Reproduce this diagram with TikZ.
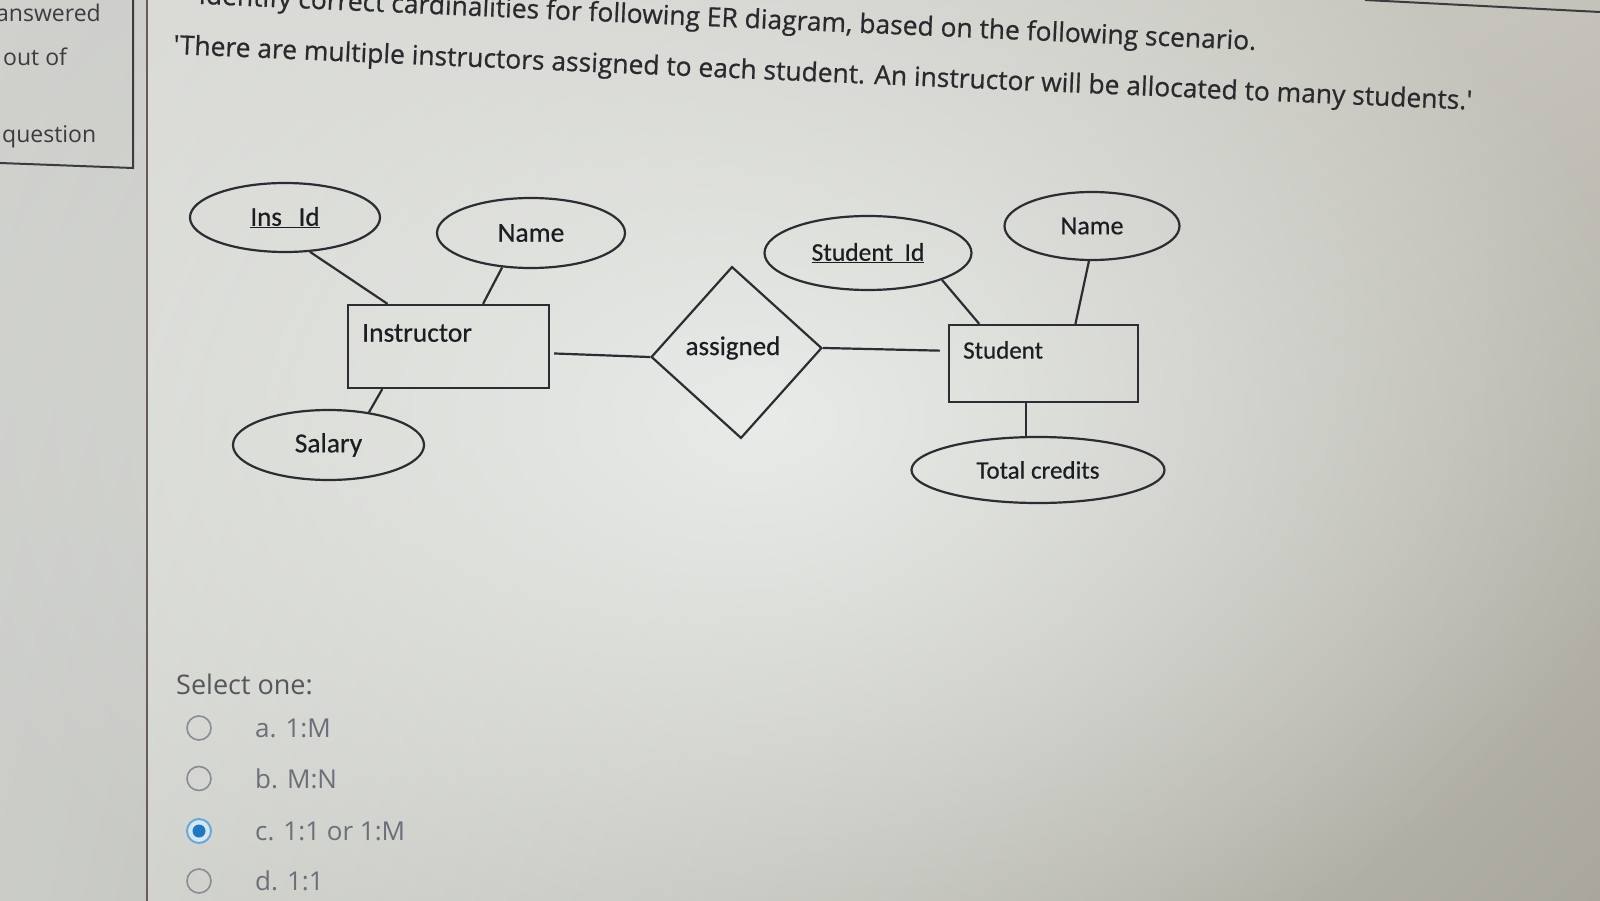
\documentclass[tikz,border=0pt]{standalone}
\usepackage{fontspec}
\setmainfont{Open Sans}
\newfontfamily\qfont{Open Sans}[FakeBold=0.7]
\newfontfamily\optfont{Open Sans}
\newfontfamily\erfont{Carlito}[FakeBold=0.5]
\usetikzlibrary{shapes.geometric,calc,fadings,shadings}
\definecolor{ink}{HTML}{2B2D33}
\definecolor{erink}{HTML}{1C1D22}
\definecolor{qink}{HTML}{2A2A2E}
\definecolor{selink}{HTML}{55575C}
\definecolor{optink}{HTML}{6B6F7A}
\definecolor{radio}{HTML}{8A8C94}
\definecolor{radsel}{HTML}{1E78C2}
\definecolor{radring}{HTML}{6AA8D8}
\definecolor{radfill}{HTML}{D6E7F4}
\definecolor{sideink}{HTML}{3B3B40}
\definecolor{bgUL}{HTML}{DCDDD9}
\definecolor{bgUR}{HTML}{C4C2BA}
\definecolor{bgLL}{HTML}{D6D8D3}
\definecolor{bgLR}{HTML}{A9A79D}
\definecolor{spot}{HTML}{E8EBE8}
\definecolor{redline}{HTML}{6B5A58}
\tikzfading[name=softspot, inner color=transparent!0, outer color=transparent!100]
\begin{document}
\begin{tikzpicture}[x=1pt,y=-1pt,
  conn/.style={draw=ink,line width=2.2pt},
  erfs/.style={font=\erfont\fontsize{#1}{28}\selectfont},
  attr/.style={ellipse,draw=ink,line width=2.2pt,inner sep=0pt,text=erink,erfs=26},
  entity/.style={rectangle,draw=ink,line width=2.2pt,inner sep=0pt},
  relbox/.style={diamond,draw=ink,line width=2.2pt,inner sep=0pt},
  ertext/.style={text=erink,erfs=26,inner sep=0pt},
  qtext/.style={text=qink,font=\qfont\fontsize{26.4}{32}\selectfont,inner sep=0pt},
  sidetext/.style={text=sideink,font=\optfont\fontsize{23}{26}\selectfont,inner sep=0pt},
  opt/.style={text=optink,font=\optfont\fontsize{26}{30}\selectfont,inner sep=0pt,anchor=west},
  radiobtn/.style={circle,draw=radio,line width=1.6pt,minimum size=24pt,inner sep=0pt}
]
\useasboundingbox (0,0) rectangle (1600,901);
\clip (0,0) rectangle (1600,901);
% background
\shade[upper left=bgUL, upper right=bgUR, lower left=bgLL, lower right=bgLR] (0,0) rectangle (1600,901);
\fill[spot, path fading=softspot] (760,420) ellipse (900 and 620);
\fill[black, opacity=0.05] (0,0) rectangle (147,901);
% sidebar
\draw[sideink, line width=2pt] (133,0) -- (133,168) -- (0,163);
\draw[redline, line width=1.6pt] (147,0) -- (147,901);
\draw[sideink, line width=2pt] (1365,0) -- (1600,12);
\node[sidetext, anchor=base west] (s1) at (-4,22) {answered};
\node[sidetext, anchor=base west] (s2) at (3,66) {out of};
\node[sidetext, anchor=base west] (s3) at (2,143) {question};
% question text
\node[qtext, anchor=base east, rotate=-2.5] (q1) at (1256,50) {Identify correct cardinalities for following ER diagram, based on the following scenario.};
\node[qtext, anchor=base west, rotate=-2.45] (q2) at (173,54) {'There are multiple instructors assigned to each student. An instructor will be allocated to many students.'};
% ER diagram
\node[attr, erfs=27, minimum width=190pt, minimum height=69pt] (insid) at (285,217.5) {\underline{Ins~~\,Id}};
\node[attr, erfs=27.5, minimum width=188pt, minimum height=70pt] (name1) at (531,233) {Name};
\node[attr, erfs=27.5, minimum width=191pt, minimum height=70pt] (salary) at (328.5,445) {Salary};
\node[entity, minimum width=201pt, minimum height=83pt] (instr) at (448.5,346.5) {};
\node[ertext, erfs=27.5, anchor=west] (instrlbl) at (362,333) {Instructor};
\node[relbox, minimum width=171pt, minimum height=172pt, rotate=3] (assigned) at (736.5,352.5) {};
\node[ertext, erfs=27] (assignedlbl) at (733,348) {assigned};
\node[attr, erfs=25.5, minimum width=207pt, minimum height=74pt] (sid) at (868,253) {\underline{Student~~Id}};
\node[attr, erfs=26, minimum width=175pt, minimum height=68pt] (name2) at (1092,226) {Name};
\node[entity, minimum width=189pt, minimum height=77pt] (student) at (1043.5,363.5) {};
\node[ertext, erfs=25, anchor=west] (studentlbl) at (963,350) {Student};
\node[attr, erfs=25, minimum width=253pt, minimum height=66pt] (total) at (1038,470) {Total credits};
% connectors
\draw[conn] (insid.-54) -- ($(instr.north west)!0.2!(instr.north east)$);
\draw[conn] (name1.-130) -- ($(instr.north west)!0.67!(instr.north east)$);
\draw[conn] ($(instr.south west)!0.174!(instr.south east)$) -- (salary.39);
\draw[conn, shorten <=4pt] ($(instr.south east)!0.42!(instr.north east)$) -- (assigned.west);
\draw[conn, shorten >=8pt] (assigned.east) -- ($(student.south west)!0.66!(student.north west)$);
\draw[conn] (sid.-20) -- ($(student.north west)!0.164!(student.north east)$);
\draw[conn] (name2.-95) -- ($(student.north west)!0.667!(student.north east)$);
\coordinate (sb) at ($(student.south west)!0.41!(student.south east)$);
\draw[conn] (sb) -- (sb |- total.north);
% options
\node[text=selink, font=\optfont\fontsize{27}{32}\selectfont, inner sep=0pt, anchor=west] (selone) at (176,684) {Select one:};
\node[radiobtn] (ra) at (199,728) {};
\node[radiobtn] (rb) at (199,778.5) {};
\node[radiobtn, draw=radring, fill=radfill, line width=2pt] (rc) at (199,831) {};
\node[circle, fill=radsel, minimum size=13pt, inner sep=0pt] (rcdot) at (rc) {};
\node[radiobtn] (rd) at (199,881) {};
\node[opt] (oa) at (255,728) {a. 1:M};
\node[opt] (ob) at (255,778.5) {b. M:N};
\node[opt] (oc) at (255,831) {c. 1:1 or 1:M};
\node[opt] (od) at (255,881) {d. 1:1};
\end{tikzpicture}
\end{document}
